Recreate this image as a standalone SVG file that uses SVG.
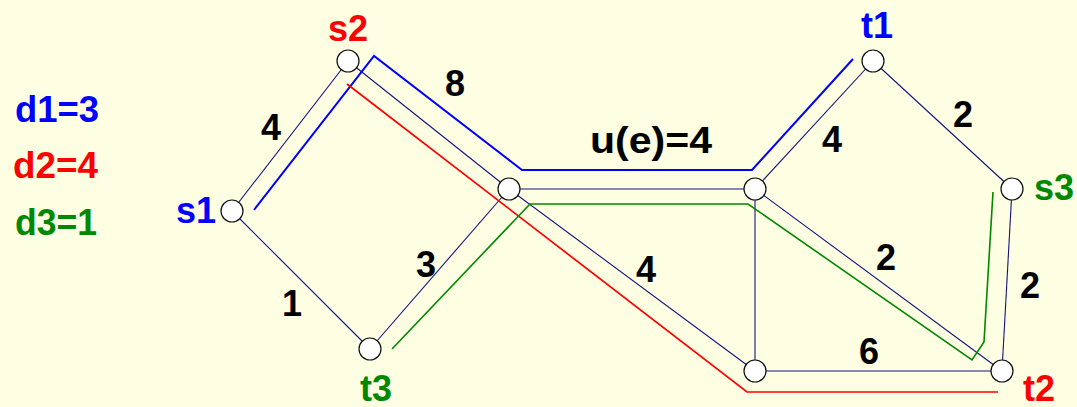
<svg xmlns="http://www.w3.org/2000/svg" width="1077" height="407" viewBox="0 0 1077 407">
<style>
.bg{fill:#FEFEE3}
.e{stroke:#14147F;stroke-width:1.1;fill:none}
.n{fill:#fff;stroke:#111;stroke-width:1.2}
.p1{stroke:#0000FF;stroke-width:2;fill:none}
.p2{stroke:#FF0000;stroke-width:1.7;fill:none}
.p3{stroke:#008800;stroke-width:1.6;fill:none}
text{font-family:"Liberation Sans",Arial,sans-serif;font-weight:bold;font-size:36px}
.w{fill:#000;text-anchor:middle}
.b{fill:#0000FF}
.r{fill:#FF0000}
.g{fill:#008800}
</style>
<rect class="bg" x="0" y="0" width="1077" height="407"/>
<g id="legend">
<text class="b" x="15" y="122" font-size="37" textLength="84" lengthAdjust="spacingAndGlyphs">d1=3</text>
<text class="r" x="13" y="178" font-size="37" textLength="85" lengthAdjust="spacingAndGlyphs">d2=4</text>
<text class="g" x="15" y="235" font-size="37" textLength="82" lengthAdjust="spacingAndGlyphs">d3=1</text>
</g>
<g id="connectors">
<line class="e" x1="232" y1="211" x2="348" y2="61"/>
<line class="e" x1="232" y1="211" x2="370" y2="349"/>
<line class="e" x1="348" y1="61" x2="509" y2="189"/>
<line class="e" x1="370" y1="349" x2="509" y2="189"/>
<line class="e" x1="509" y1="189" x2="755" y2="189"/>
<line class="e" x1="509" y1="189" x2="755" y2="371"/>
<line class="e" x1="755" y1="189" x2="755" y2="371"/>
<line class="e" x1="755" y1="189" x2="873" y2="61"/>
<line class="e" x1="755" y1="189" x2="1002" y2="371"/>
<line class="e" x1="755" y1="371" x2="1002" y2="371"/>
<line class="e" x1="873" y1="61" x2="1012" y2="189"/>
<line class="e" x1="1012" y1="189" x2="1002" y2="371"/>
<polyline class="p1" points="254,210 374,56 522,170 752,170 853,59"/>
<polyline class="p2" points="347,84 747,392 998,392"/>
<polyline class="p3" points="392,349 530,204 748,204 972,360 984,342 993,192"/>
</g>
<g id="edge-labels">
<text class="w" x="271" y="140">4</text>
<text class="w" x="455" y="96">8</text>
<text class="w" x="651" y="153" textLength="122" lengthAdjust="spacingAndGlyphs">u(e)=4</text>
<text class="w" x="832" y="152">4</text>
<text class="w" x="963" y="127">2</text>
<text class="w" x="426" y="277">3</text>
<text class="w" x="292" y="316">1</text>
<text class="w" x="646" y="282">4</text>
<text class="w" x="886" y="270">2</text>
<text class="w" x="1030" y="298">2</text>
<text class="w" x="869" y="364">6</text>
</g>
<g id="s1"><circle class="n" cx="232" cy="211" r="11"/><text class="b" x="196" y="223" text-anchor="middle">s1</text></g>
<g id="s2"><circle class="n" cx="348" cy="61" r="11"/><text class="r" x="348" y="41" text-anchor="middle">s2</text></g>
<g id="t3"><circle class="n" cx="370" cy="349" r="11"/><text class="g" x="376" y="401" text-anchor="middle">t3</text></g>
<g id="a"><circle class="n" cx="509" cy="189" r="11"/></g>
<g id="b"><circle class="n" cx="755" cy="189" r="11"/></g>
<g id="c"><circle class="n" cx="755" cy="371" r="11"/></g>
<g id="t1"><circle class="n" cx="873" cy="61" r="11"/><text class="b" x="877" y="38" text-anchor="middle">t1</text></g>
<g id="s3"><circle class="n" cx="1012" cy="189" r="11"/><text class="g" x="1034" y="200">s3</text></g>
<g id="t2"><circle class="n" cx="1002" cy="371" r="11"/><text class="r" x="1023" y="401">t2</text></g>
</svg>
